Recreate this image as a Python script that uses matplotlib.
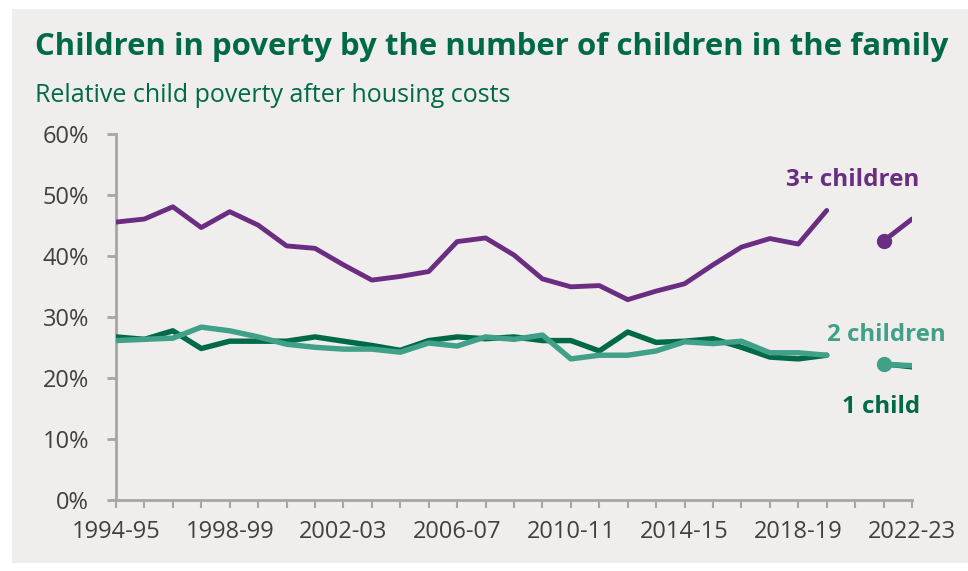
import numpy as np
import matplotlib
matplotlib.use("Agg")
import matplotlib.pyplot as plt
from matplotlib.patches import Rectangle

# Financial years, 1994-95 to 2022-23 (no survey result for 2020-21)
years = [f"{y}-{str(y + 1)[-2:]}" for y in range(1994, 2023)]

three_plus = [45.5, 46.0, 48.0, 44.6, 47.2, 45.0, 41.6, 41.2, 38.5, 36.0,
              36.6, 37.4, 42.3, 42.9, 40.1, 36.2, 34.9, 35.1, 32.8, 34.2,
              35.4, 38.5, 41.4, 42.8, 41.9, 47.4, np.nan, 42.4, 46.0]
two_children = [26.1, 26.3, 26.5, 28.3, 27.7, 26.7, 25.5, 25.0, 24.7, 24.7,
                24.2, 25.7, 25.2, 26.7, 26.3, 27.0, 23.1, 23.7, 23.7, 24.4,
                25.9, 25.6, 26.0, 24.1, 24.1, 23.7, np.nan, 22.2, 22.0]
one_child = [26.7, 26.3, 27.7, 24.8, 26.0, 26.0, 26.0, 26.7, 26.0, 25.3,
             24.5, 26.1, 26.7, 26.4, 26.7, 26.1, 26.1, 24.4, 27.5, 25.8,
             26.0, 26.4, 25.0, 23.4, 23.1, 23.7, np.nan, 22.3, 21.8]

PURPLE = "#6a2d82"
TEAL = "#40a088"
DARK = "#006a48"
BG = "#efeeec"
AXIS = "#a6a6a6"
TEXT = "#404040"

plt.rcParams["font.family"] = ["Open Sans", "DejaVu Sans"]

fig = plt.figure(figsize=(9.68, 5.71), dpi=100)
fig.patch.set_facecolor("white")
fig.patches.append(Rectangle((12 / 968, 1 - 563 / 571), 956 / 968, 554 / 571,
                             transform=fig.transFigure, facecolor=BG,
                             edgecolor="none", zorder=-10))

ax = fig.add_axes([116 / 968, 1 - 500 / 571, 796 / 968, 366.5 / 571])
ax.set_facecolor("none")

x = np.arange(len(years))
ax.plot(x, one_child, color=DARK, lw=3.9, solid_capstyle="round", zorder=3)
ax.plot(x, two_children, color=TEAL, lw=3.9, solid_capstyle="round", zorder=4)
ax.plot(x, three_plus, color=PURPLE, lw=3.5, solid_capstyle="round", zorder=5)

# markers on the first point after the break
ax.plot(x[27], one_child[27], "o", color=DARK, ms=9, zorder=3)
ax.plot(x[27], two_children[27], "o", color=TEAL, ms=10, zorder=4)
ax.plot(x[27], three_plus[27], "o", color=PURPLE, ms=10, zorder=5)

ax.text(25.9, 52.4, "3+ children", color=PURPLE, fontsize=17.5, fontweight="bold",
        ha="center", va="center")
ax.text(27.1, 27.0, "2 children", color=TEAL, fontsize=17.3, fontweight="bold",
        ha="center", va="center")
ax.text(26.9, 15.2, "1 child", color=DARK, fontsize=17.3, fontweight="bold",
        ha="center", va="center")

ax.set_xlim(0, len(years) - 1)
ax.set_ylim(0, 60)
ax.set_yticks(np.arange(0, 61, 10))
ax.set_yticklabels([f"{v}%" for v in range(0, 61, 10)])
ax.set_xticks(x)
ax.set_xticklabels([lab if i % 4 == 0 else "" for i, lab in enumerate(years)])

for side in ["top", "right"]:
    ax.spines[side].set_visible(False)
for side in ["left", "bottom"]:
    ax.spines[side].set_color(AXIS)
    ax.spines[side].set_linewidth(2)
ax.tick_params(axis="y", length=6.5, width=2, color=AXIS, pad=13,
               labelsize=17, labelcolor=TEXT)
ax.tick_params(axis="x", length=5.5, width=1.5, color=AXIS, pad=9,
               labelsize=17, labelcolor=TEXT)

fig.text(35 / 968, 1 - 47 / 571, "Children in poverty by the number of children in the family",
         color=DARK, fontsize=22.4, fontweight="bold", va="center")
fig.text(35 / 968, 1 - 95 / 571, "Relative child poverty after housing costs",
         color=DARK, fontsize=18, va="center")

fig.savefig("out.png", dpi=100)
